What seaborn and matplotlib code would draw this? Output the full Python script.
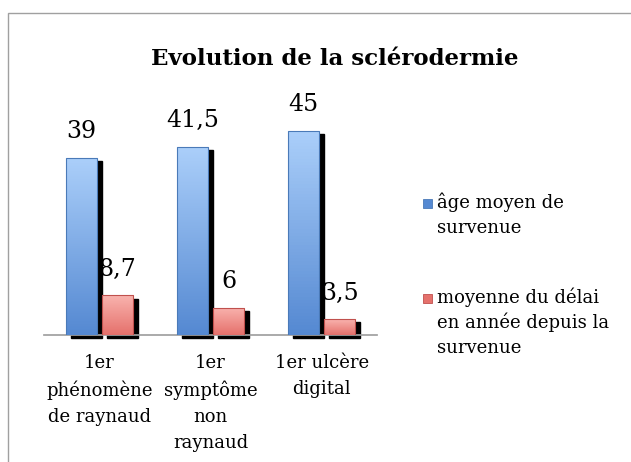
import numpy as np
import pandas as pd
import matplotlib
matplotlib.use("Agg")
import matplotlib.pyplot as plt
import matplotlib.transforms as mtransforms
from matplotlib.colors import LinearSegmentedColormap
from matplotlib.patches import Rectangle
import seaborn as sns

categories = ["1er\nphénomène\nde raynaud", "1er\nsymptôme\nnon\nraynaud", "1er ulcère\ndigital"]
series = ["âge moyen de\nsurvenue", "moyenne du délai\nen année depuis la\nsurvenue"]
age_moyen = [39, 41.5, 45]
delai_moyen = [8.7, 6, 3.5]
value_labels = [["39", "41,5", "45"], ["8,7", "6", "3,5"]]
title = "Evolution de la sclérodermie"

# top / bottom shades of each series, then edge colour
shades = [("#abcffa", "#5589d2", "#4a7ab8"), ("#f9b3ae", "#e5716c", "#c0504d")]

sns.set_theme(style="white")
plt.rcParams["font.family"] = ["DejaVu Serif"]
plt.rcParams["text.color"] = "black"
plt.rcParams["xtick.color"] = "black"

df = pd.DataFrame({
    "cat": categories * 2,
    "serie": [series[0]] * 3 + [series[1]] * 3,
    "val": age_moyen + delai_moyen,
})

fig = plt.figure(figsize=(6.31, 4.62), dpi=100)
ax = fig.add_axes([0.0697, 0.2749, 0.528, 0.4915])

sns.barplot(data=df, x="cat", y="val", hue="serie", ax=ax, width=0.65, gap=0.14,
            palette=[s[1] for s in shades], legend=False, zorder=3)

ax.set_ylim(0, 50)
ax.set_xlim(-0.5, 2.5)
ax.set_xlabel("")
ax.set_ylabel("")
ax.set_yticks([])
for side in ["left", "right", "top"]:
    ax.spines[side].set_visible(False)
ax.spines["bottom"].set_color("#a0a0a0")
ax.spines["bottom"].set_zorder(2)
ax.tick_params(axis="x", length=0, pad=14, labelcolor="black")
for t in ax.get_xticklabels():
    t.set_fontsize(13)
    t.set_linespacing(1.55)

shadow_tr = mtransforms.offset_copy(ax.transData, fig=fig, x=3.6, y=-2.2, units="points")

for si, cont in enumerate(ax.containers):
    cmap = LinearSegmentedColormap.from_list(f"g{si}", [shades[si][1], shades[si][0]])
    for bi, bar in enumerate(cont):
        x0, y0 = bar.get_x(), bar.get_y()
        w, h = bar.get_width(), bar.get_height()
        # drop shadow
        ax.add_patch(Rectangle((x0, y0), w, h, transform=shadow_tr, color="black",
                               zorder=1, clip_on=False))
        # vertical gradient fill
        grad = np.linspace(0, 1, 64).reshape(-1, 1)
        im = ax.imshow(grad, cmap=cmap, aspect="auto", origin="lower",
                       extent=[x0, x0 + w, y0, y0 + h], zorder=4)
        im.set_clip_path(bar)
        bar.set_edgecolor(shades[si][2])
        bar.set_linewidth(0.8)
        bar.set_zorder(5)
        bar.set_facecolor("none")
        ax.annotate(value_labels[si][bi], (x0 + w / 2, h), xytext=(0, 14),
                    textcoords="offset points", ha="center", va="baseline",
                    fontsize=17, color="black", zorder=6)

ax.set_xlim(-0.5, 2.5)
ax.set_ylim(0, 50)

fig.text(0.531, 1 - 65 / 462, title, ha="center", va="baseline",
         fontsize=16.5, fontweight="bold")

# legend
leg_y = [208, 303]
for si in range(2):
    fig.patches.append(Rectangle((423 / 631, 1 - leg_y[si] / 462), 9 / 631, 9 / 462,
                                 transform=fig.transFigure, facecolor=shades[si][1],
                                 edgecolor=shades[si][2], linewidth=0.6, figure=fig))
    for li, line in enumerate(series[si].split("\n")):
        fig.text(437 / 631, 1 - (leg_y[si] + 25 * li) / 462, line, ha="left",
                 va="baseline", fontsize=13)

# chart border
fig.patches.append(Rectangle((8 / 631, -0.1), 1.1, 1 - 13 / 462 + 0.1,
                             transform=fig.transFigure, fill=False,
                             edgecolor="#a0a0a0", linewidth=1, figure=fig))

fig.savefig("out.png", dpi=100)
